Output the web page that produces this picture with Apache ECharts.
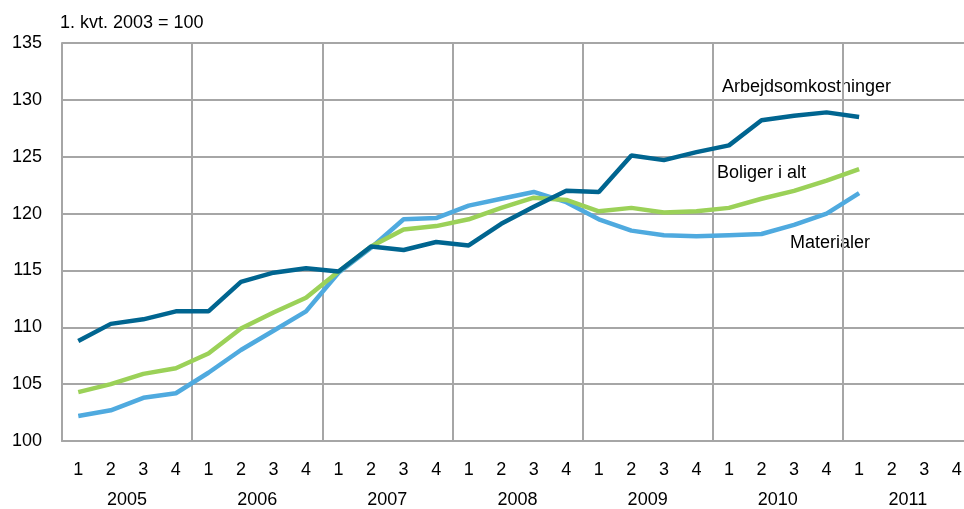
<!DOCTYPE html>
<html>
<head>
<meta charset="utf-8">
<script src="https://cdn.jsdelivr.net/npm/echarts@6/dist/echarts.min.js"></script>
<style>
html,body{margin:0;padding:0;background:#fff;overflow:hidden;}
#chart{width:973px;height:509px;}
</style>
</head>
<body>
<div id="chart"></div>
<script>
var quarters = ['1','2','3','4','1','2','3','4','1','2','3','4','1','2','3','4','1','2','3','4','1','2','3','4','1','2','3','4'];
var years = ['2005','2006','2007','2008','2009','2010','2011'];
var arbejdsomkostninger = [108.8,110.3,110.7,111.4,111.4,114.0,114.8,115.2,114.9,117.1,116.8,117.5,117.2,119.1,120.6,122.0,121.9,125.1,124.7,125.4,126.0,128.2,128.6,128.9,128.5];
var boligerIAlt = [104.3,105.0,105.9,106.4,107.7,109.9,111.3,112.6,114.9,117.1,118.6,118.9,119.5,120.5,121.4,121.2,120.2,120.5,120.1,120.2,120.5,121.3,122.0,122.9,123.9];
var materialer = [102.2,102.7,103.8,104.2,106.0,108.0,109.7,111.4,114.8,117.0,119.5,119.6,120.7,121.3,121.9,121.0,119.5,118.5,118.1,118.0,118.1,118.2,119.0,120.0,121.8];
var yTitle = '1. kvt. 2003 = 100';

var FONT = '"Liberation Sans", Arial, sans-serif';
var chart = echarts.init(document.getElementById('chart'), null, {renderer:'canvas'});
var gridColor = '#a6a6a6';
chart.setOption({
  animation: false,
  backgroundColor: '#fff',
  grid: {left: 62, top: 43, right: 0, bottom: 65},
  xAxis: [{
    type: 'category',
    data: quarters,
    boundaryGap: true,
    axisLine: {show: true, lineStyle: {color: gridColor, width: 2}},
    axisTick: {show: false},
    splitLine: {show: false},
    axisLabel: {color: '#000', fontFamily: FONT, fontSize: 18, margin: 20, interval: 0}
  }, {
    type: 'category',
    data: years,
    position: 'bottom',
    offset: 30,
    boundaryGap: true,
    axisLine: {show: false},
    axisTick: {show: false},
    splitLine: {show: true, interval: 0, lineStyle: {color: gridColor, width: 2}},
    axisLabel: {color: '#000', fontFamily: FONT, fontSize: 18, margin: 20, interval: 0}
  }],
  yAxis: {
    type: 'value',
    min: 100, max: 135, interval: 5,
    axisLine: {show: true, lineStyle: {color: gridColor, width: 2}},
    axisTick: {show: false},
    splitLine: {show: true, lineStyle: {color: gridColor, width: 2}},
    axisLabel: {color: '#000', fontFamily: FONT, fontSize: 18, margin: 20}
  },
  graphic: [
    {type: 'text', left: 60, top: 14, style: {text: yTitle, font: '18px ' + FONT, fill: '#000'}},
    {type: 'text', left: 722, top: 78, style: {text: 'Arbejdsomkostninger', font: '18px ' + FONT, fill: '#000'}},
    {type: 'text', left: 717, top: 164, style: {text: 'Boliger i alt', font: '18px ' + FONT, fill: '#000'}},
    {type: 'text', left: 790, top: 234, style: {text: 'Materialer', font: '18px ' + FONT, fill: '#000'}}
  ],
  series: [
    {name: 'Materialer', type: 'line', data: materialer, showSymbol: false, lineStyle: {color: '#4faadf', width: 4.5}, z: 3},
    {name: 'Boliger i alt', type: 'line', data: boligerIAlt, showSymbol: false, lineStyle: {color: '#9bd158', width: 4.5}, z: 4},
    {name: 'Arbejdsomkostninger', type: 'line', data: arbejdsomkostninger, showSymbol: false, lineStyle: {color: '#006590', width: 4.5}, z: 5}
  ]
});
</script>
</body>
</html>
